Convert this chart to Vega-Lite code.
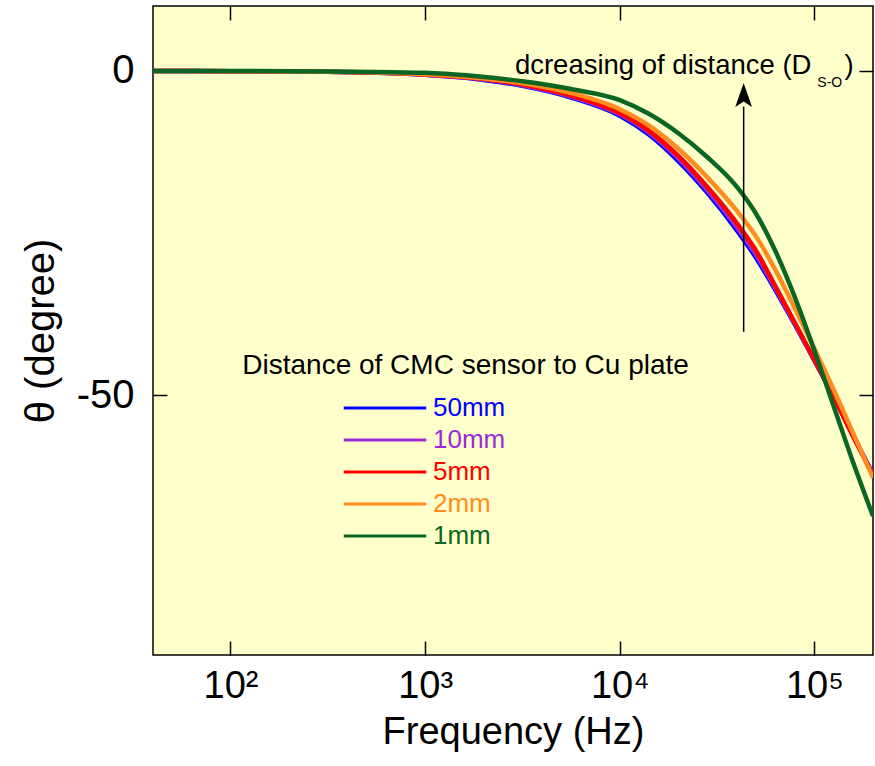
{
  "$schema": "https://vega.github.io/schema/vega-lite/v6.json",
  "width": 720,
  "height": 649,
  "autosize": {"type": "none"},
  "padding": {"left": 153, "top": 6, "right": 2, "bottom": 111},
  "background": "white",
  "config": {
    "font": "Liberation Sans",
    "view": {"fill": "#FFFFCC", "stroke": "black", "strokeWidth": 1.5},
    "axis": {"grid": false, "domain": false, "tickColor": "black", "tickWidth": 1.5, "tickSize": -14, "labelColor": "black", "titleColor": "black", "titleFontWeight": "normal", "labelFont": "Liberation Sans", "titleFont": "Liberation Sans"}
  },
  "datasets": {
    "curves": [
      {"f": 40, "theta": 0, "d": "50mm"}, {"f": 100, "theta": -0.05, "d": "50mm"}, {"f": 316, "theta": -0.15, "d": "50mm"}, {"f": 1000, "theta": -0.6, "d": "50mm"}, {"f": 1780, "theta": -1.2, "d": "50mm"}, {"f": 3160, "theta": -2.3, "d": "50mm"}, {"f": 5620, "theta": -4.1, "d": "50mm"}, {"f": 10000, "theta": -6.9, "d": "50mm"}, {"f": 14100, "theta": -9.8, "d": "50mm"}, {"f": 20000, "theta": -13.9, "d": "50mm"}, {"f": 28200, "theta": -18.8, "d": "50mm"}, {"f": 39800, "theta": -24.5, "d": "50mm"}, {"f": 50100, "theta": -28.8, "d": "50mm"}, {"f": 63100, "theta": -33.8, "d": "50mm"}, {"f": 79400, "theta": -39.1, "d": "50mm"}, {"f": 100000, "theta": -44.6, "d": "50mm"}, {"f": 126000, "theta": -50.3, "d": "50mm"}, {"f": 158000, "theta": -56.2, "d": "50mm"}, {"f": 200000, "theta": -62.2, "d": "50mm"},
      {"f": 40, "theta": 0, "d": "10mm"}, {"f": 100, "theta": -0.05, "d": "10mm"}, {"f": 316, "theta": -0.15, "d": "10mm"}, {"f": 1000, "theta": -0.58, "d": "10mm"}, {"f": 1780, "theta": -1.15, "d": "10mm"}, {"f": 3160, "theta": -2.2, "d": "10mm"}, {"f": 5620, "theta": -3.95, "d": "10mm"}, {"f": 10000, "theta": -6.7, "d": "10mm"}, {"f": 14100, "theta": -9.5, "d": "10mm"}, {"f": 20000, "theta": -13.5, "d": "10mm"}, {"f": 28200, "theta": -18.4, "d": "10mm"}, {"f": 39800, "theta": -24.0, "d": "10mm"}, {"f": 50100, "theta": -28.3, "d": "10mm"}, {"f": 63100, "theta": -33.5, "d": "10mm"}, {"f": 79400, "theta": -39.0, "d": "10mm"}, {"f": 100000, "theta": -44.6, "d": "10mm"}, {"f": 126000, "theta": -50.3, "d": "10mm"}, {"f": 158000, "theta": -56.2, "d": "10mm"}, {"f": 200000, "theta": -62.2, "d": "10mm"},
      {"f": 40, "theta": 0, "d": "5mm"}, {"f": 100, "theta": -0.05, "d": "5mm"}, {"f": 316, "theta": -0.15, "d": "5mm"}, {"f": 1000, "theta": -0.55, "d": "5mm"}, {"f": 1780, "theta": -1.1, "d": "5mm"}, {"f": 3160, "theta": -2.1, "d": "5mm"}, {"f": 5620, "theta": -3.8, "d": "5mm"}, {"f": 10000, "theta": -6.5, "d": "5mm"}, {"f": 14100, "theta": -9.2, "d": "5mm"}, {"f": 20000, "theta": -13.1, "d": "5mm"}, {"f": 28200, "theta": -17.9, "d": "5mm"}, {"f": 39800, "theta": -23.4, "d": "5mm"}, {"f": 50100, "theta": -27.7, "d": "5mm"}, {"f": 63100, "theta": -33.2, "d": "5mm"}, {"f": 79400, "theta": -38.8, "d": "5mm"}, {"f": 100000, "theta": -44.5, "d": "5mm"}, {"f": 126000, "theta": -50.3, "d": "5mm"}, {"f": 158000, "theta": -56.3, "d": "5mm"}, {"f": 200000, "theta": -62.3, "d": "5mm"},
      {"f": 40, "theta": 0, "d": "2mm"}, {"f": 100, "theta": -0.05, "d": "2mm"}, {"f": 316, "theta": -0.12, "d": "2mm"}, {"f": 1000, "theta": -0.5, "d": "2mm"}, {"f": 1780, "theta": -1.0, "d": "2mm"}, {"f": 3160, "theta": -1.9, "d": "2mm"}, {"f": 5620, "theta": -3.4, "d": "2mm"}, {"f": 10000, "theta": -5.9, "d": "2mm"}, {"f": 14100, "theta": -8.4, "d": "2mm"}, {"f": 20000, "theta": -12.0, "d": "2mm"}, {"f": 28200, "theta": -16.4, "d": "2mm"}, {"f": 39800, "theta": -21.5, "d": "2mm"}, {"f": 50100, "theta": -25.5, "d": "2mm"}, {"f": 63100, "theta": -30.7, "d": "2mm"}, {"f": 79400, "theta": -36.6, "d": "2mm"}, {"f": 100000, "theta": -42.8, "d": "2mm"}, {"f": 126000, "theta": -49.2, "d": "2mm"}, {"f": 158000, "theta": -55.8, "d": "2mm"}, {"f": 200000, "theta": -62.7, "d": "2mm"},
      {"f": 40, "theta": 0, "d": "1mm"}, {"f": 100, "theta": 0, "d": "1mm"}, {"f": 316, "theta": -0.1, "d": "1mm"}, {"f": 1000, "theta": -0.3, "d": "1mm"}, {"f": 1780, "theta": -0.8, "d": "1mm"}, {"f": 3160, "theta": -1.6, "d": "1mm"}, {"f": 5620, "theta": -2.8, "d": "1mm"}, {"f": 10000, "theta": -4.5, "d": "1mm"}, {"f": 14100, "theta": -6.6, "d": "1mm"}, {"f": 20000, "theta": -9.6, "d": "1mm"}, {"f": 28200, "theta": -13.3, "d": "1mm"}, {"f": 39800, "theta": -17.8, "d": "1mm"}, {"f": 50100, "theta": -22.0, "d": "1mm"}, {"f": 63100, "theta": -27.8, "d": "1mm"}, {"f": 79400, "theta": -34.9, "d": "1mm"}, {"f": 100000, "theta": -43.1, "d": "1mm"}, {"f": 126000, "theta": -51.8, "d": "1mm"}, {"f": 158000, "theta": -60.3, "d": "1mm"}, {"f": 200000, "theta": -68.6, "d": "1mm"}
    ]
  },
  "resolve": {"axis": {"x": "independent", "y": "independent"}},
  "layer": [
    {
      "data": {"name": "curves"},
      "mark": {"type": "line", "strokeWidth": 4.5, "interpolate": "monotone", "clip": true},
      "encoding": {
        "x": {"field": "f", "type": "quantitative", "scale": {"type": "log", "domain": [40, 200000], "nice": false},
          "axis": {"orient": "bottom", "values": [100, 1000, 10000, 100000], "labelExpr": "datum.value == 100 ? '10²' : datum.value == 1000 ? '10³' : datum.value == 10000 ? '10⁴' : '10⁵'", "labelFontSize": 38, "labelPadding": 26, "title": "Frequency (Hz)", "titleFontSize": 38, "titlePadding": 8}},
        "y": {"field": "theta", "type": "quantitative", "scale": {"domain": [-90, 10], "nice": false},
          "axis": {"orient": "left", "values": [0, -50], "labelExpr": "datum.value == 0 ? '0' : '-50'", "labelFontSize": 40, "labelPadding": 33, "title": "θ (degree)", "titleFontSize": 40, "titlePadding": 15}},
        "color": {"field": "d", "type": "nominal", "sort": ["50mm", "10mm", "5mm", "2mm", "1mm"],
          "scale": {"domain": ["50mm", "10mm", "5mm", "2mm", "1mm"], "range": ["#0000FF", "#9A2BD6", "#FF0000", "#FF8C1E", "#0B6623"]},
          "legend": {"orient": "none", "legendX": 214, "legendY": 384, "title": null, "padding": 0,
            "symbolType": "M-2.5,0H2.5", "symbolSize": 1089, "symbolStrokeWidth": 3,
            "labelFontSize": 26, "labelFont": "Liberation Sans", "labelOffset": 30, "rowPadding": 1,
            "encode": {"labels": {"update": {"fill": {"scale": "color", "field": "value"}}}}}}
      }
    },
    {
      "data": {"values": [{}]},
      "mark": {"type": "rule", "color": "black", "strokeWidth": 1.5},
      "encoding": {
        "x": {"datum": 43300, "type": "quantitative", "axis": null},
        "y": {"datum": -40.2, "type": "quantitative", "axis": null},
        "y2": {"datum": -5.5}
      }
    },
    {
      "data": {"values": [{}]},
      "mark": {"type": "point", "shape": "M0,-1L-0.7,1L0,0.55L0.7,1Z", "size": 576, "filled": true, "color": "black", "opacity": 1},
      "encoding": {
        "x": {"datum": 43300, "type": "quantitative", "axis": null},
        "y": {"datum": -3.7, "type": "quantitative", "axis": null}
      }
    },
    {
      "data": {"values": [{}]},
      "mark": {"type": "text", "text": "Distance of CMC sensor to Cu plate", "align": "left", "baseline": "middle", "fontSize": 28, "font": "Liberation Sans", "color": "black"},
      "encoding": {
        "x": {"datum": 115, "type": "quantitative", "axis": null},
        "y": {"datum": -45.4, "type": "quantitative", "axis": null}
      }
    },
    {
      "data": {"values": [{}]},
      "mark": {"type": "text", "text": "dcreasing of distance (D", "align": "left", "baseline": "middle", "fontSize": 27.5, "font": "Liberation Sans", "color": "black"},
      "encoding": {
        "x": {"datum": 2893, "type": "quantitative", "axis": null},
        "y": {"datum": 0.8, "type": "quantitative", "axis": null}
      }
    },
    {
      "data": {"values": [{}]},
      "mark": {"type": "text", "text": "S-O", "align": "left", "baseline": "middle", "fontSize": 14, "font": "Liberation Sans", "color": "black"},
      "encoding": {
        "x": {"datum": 103500, "type": "quantitative", "axis": null},
        "y": {"datum": -1.9, "type": "quantitative", "axis": null}
      }
    },
    {
      "data": {"values": [{}]},
      "mark": {"type": "text", "text": ")", "align": "left", "baseline": "middle", "fontSize": 27.5, "font": "Liberation Sans", "color": "black"},
      "encoding": {
        "x": {"datum": 142600, "type": "quantitative", "axis": null},
        "y": {"datum": 0.8, "type": "quantitative", "axis": null}
      }
    },
    {
      "data": {"values": [{}]},
      "mark": {"type": "point", "opacity": 0},
      "encoding": {
        "x": {"datum": 1000, "type": "quantitative", "axis": {"orient": "top", "values": [100, 1000, 10000, 100000], "labels": false, "title": null}},
        "y": {"datum": 0, "type": "quantitative", "axis": {"orient": "right", "values": [0, -50], "labels": false, "title": null}}
      }
    }
  ]
}
